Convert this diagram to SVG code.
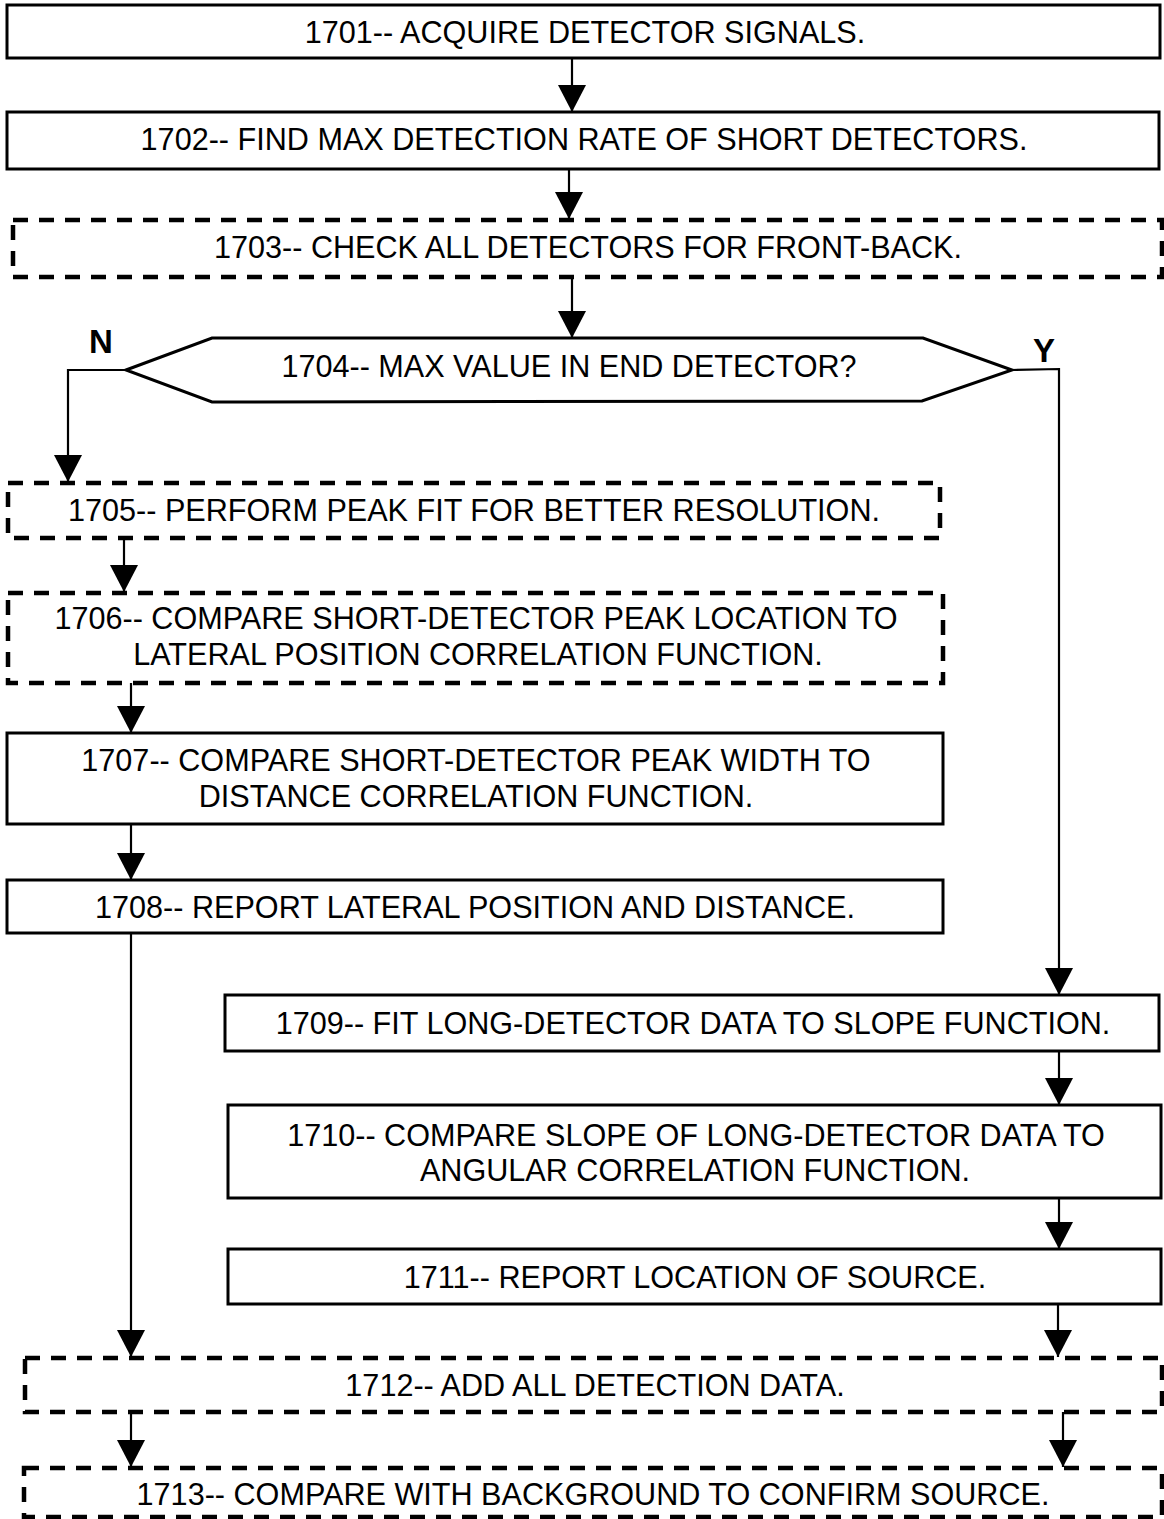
<svg xmlns="http://www.w3.org/2000/svg" width="1164" height="1519" viewBox="0 0 1164 1519">
<style>
.box{fill:#fff;stroke:#000;stroke-width:3}
.dbox{fill:#fff;stroke:#000;stroke-width:4.5;stroke-dasharray:15 11}
.t{font-family:"Liberation Sans",Arial,sans-serif;font-size:30.6px;fill:#000;text-anchor:middle}
.lbl{font-family:"Liberation Sans",Arial,sans-serif;font-size:33px;font-weight:bold;fill:#000;text-anchor:middle}
.c{fill:none;stroke:#000;stroke-width:2.2}
</style>
<defs>
<marker id="ah" markerUnits="userSpaceOnUse" markerWidth="28" markerHeight="28" viewBox="0 0 26 26" refX="25" refY="13" orient="auto">
<polygon points="0,0 25,13 0,26" fill="#000"/>
</marker>
</defs>
<rect width="1164" height="1519" fill="#fff"/>
<g id="connectors">
<line class="c" x1="572" y1="58" x2="572" y2="112" marker-end="url(#ah)"/>
<line class="c" x1="569" y1="169" x2="569" y2="219" marker-end="url(#ah)"/>
<line class="c" x1="572" y1="277" x2="572" y2="338" marker-end="url(#ah)"/>
<polyline class="c" points="126,370 68,370 68,482" marker-end="url(#ah)"/>
<polyline class="c" points="1012,370 1059,369 1059,995" marker-end="url(#ah)"/>
<line class="c" x1="124" y1="538" x2="124" y2="592" marker-end="url(#ah)"/>
<line class="c" x1="131" y1="683" x2="131" y2="733" marker-end="url(#ah)"/>
<line class="c" x1="131" y1="824" x2="131" y2="880" marker-end="url(#ah)"/>
<line class="c" x1="131" y1="934" x2="131" y2="1357" marker-end="url(#ah)"/>
<line class="c" x1="1059" y1="1051" x2="1059" y2="1105" marker-end="url(#ah)"/>
<line class="c" x1="1059" y1="1198" x2="1059" y2="1249" marker-end="url(#ah)"/>
<line class="c" x1="1058" y1="1304" x2="1058" y2="1357" marker-end="url(#ah)"/>
<line class="c" x1="131" y1="1412" x2="131" y2="1467" marker-end="url(#ah)"/>
<line class="c" x1="1063" y1="1412" x2="1063" y2="1467" marker-end="url(#ah)"/>
</g>
<g id="n1701"><rect class="box" x="7" y="5" width="1153" height="53"/><text class="t" x="585" y="43">1701-- ACQUIRE DETECTOR SIGNALS.</text></g>
<g id="n1702"><rect class="box" x="7" y="112" width="1152" height="57"/><text class="t" x="584" y="150">1702-- FIND MAX DETECTION RATE OF SHORT DETECTORS.</text></g>
<g id="n1703"><rect class="dbox" x="13" y="220" width="1149" height="57"/><text class="t" x="588" y="258">1703-- CHECK ALL DETECTORS FOR FRONT-BACK.</text></g>
<g id="n1704"><polygon points="126,370 212,338 923,338 1012,370 922,401 212,402" fill="#fff" stroke="#000" stroke-width="3"/><text class="t" x="569" y="377">1704-- MAX VALUE IN END DETECTOR?</text></g>
<g id="lblN"><text class="lbl" x="101" y="353">N</text></g>
<g id="lblY"><text class="lbl" x="1044" y="362">Y</text></g>
<g id="n1705"><rect class="dbox" x="8" y="483" width="932" height="55"/><text class="t" x="474" y="521">1705-- PERFORM PEAK FIT FOR BETTER RESOLUTION.</text></g>
<g id="n1706"><rect class="dbox" x="8" y="593" width="935" height="90"/><text class="t" x="476" y="629">1706-- COMPARE SHORT-DETECTOR PEAK LOCATION TO</text><text class="t" x="478" y="665">LATERAL POSITION CORRELATION FUNCTION.</text></g>
<g id="n1707"><rect class="box" x="7" y="733" width="936" height="91"/><text class="t" x="476" y="771">1707-- COMPARE SHORT-DETECTOR PEAK WIDTH TO</text><text class="t" x="476" y="807">DISTANCE CORRELATION FUNCTION.</text></g>
<g id="n1708"><rect class="box" x="7" y="880" width="936" height="53"/><text class="t" x="475" y="918">1708-- REPORT LATERAL POSITION AND DISTANCE.</text></g>
<g id="n1709"><rect class="box" x="225" y="995" width="934" height="56"/><text class="t" x="693" y="1034">1709-- FIT LONG-DETECTOR DATA TO SLOPE FUNCTION.</text></g>
<g id="n1710"><rect class="box" x="228" y="1105" width="933" height="93"/><text class="t" x="696" y="1146">1710-- COMPARE SLOPE OF LONG-DETECTOR DATA TO</text><text class="t" x="695" y="1181">ANGULAR CORRELATION FUNCTION.</text></g>
<g id="n1711"><rect class="box" x="228" y="1249" width="933" height="55"/><text class="t" x="695" y="1288">1711-- REPORT LOCATION OF SOURCE.</text></g>
<g id="n1712"><rect class="dbox" x="25" y="1358" width="1137" height="54"/><text class="t" x="595" y="1396">1712-- ADD ALL DETECTION DATA.</text></g>
<g id="n1713"><rect class="dbox" x="24" y="1468" width="1138" height="49"/><text class="t" x="593" y="1505">1713-- COMPARE WITH BACKGROUND TO CONFIRM SOURCE.</text></g>
</svg>
